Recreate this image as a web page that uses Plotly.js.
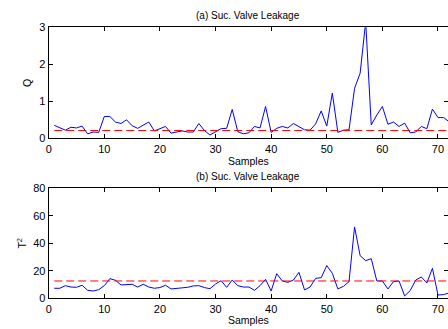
<!DOCTYPE html>
<html>
<head>
<meta charset="utf-8">
<script src="https://cdn.plot.ly/plotly-3.0.1.min.js"></script>
<style>html,body{margin:0;padding:0;background:#fff;}#chart{width:448px;height:329px;}</style>
</head>
<body>
<div id="chart"></div>
<script>
const samples = Array.from({length: 72}, (_, i) => i + 1);
const qValues = [0.35,0.28,0.22,0.30,0.28,0.33,0.12,0.17,0.16,0.59,
  0.59,0.44,0.40,0.50,0.34,0.27,0.36,0.44,0.20,0.25,
  0.32,0.14,0.18,0.20,0.17,0.17,0.40,0.21,0.09,0.18,
  0.26,0.27,0.78,0.18,0.12,0.15,0.32,0.28,0.86,0.16,
  0.27,0.32,0.28,0.40,0.32,0.23,0.22,0.39,0.74,0.33,
  1.22,0.16,0.22,0.23,1.35,1.76,3.15,0.36,0.63,0.86,
  0.38,0.44,0.32,0.41,0.15,0.17,0.32,0.26,0.79,0.56,
  0.56,0.45];
const t2Values = [7.3,7.3,9.2,8.2,8.0,9.5,5.8,5.3,6.3,9.2,
  14.3,13.1,9.7,10.2,10.2,8.2,10.2,8.2,7.3,7.8,
  9.5,6.8,7.3,7.3,8.0,9.0,9.2,7.8,7.0,10.4,
  12.8,8.0,13.3,9.2,8.2,8.2,5.8,9.2,13.8,5.3,
  17.9,12.6,11.6,13.3,18.9,6.1,8.2,14.5,15.0,23.8,
  18.2,6.8,8.7,12.1,51.9,31.0,27.4,28.8,12.6,12.6,
  6.8,12.1,12.6,1.7,5.6,13.3,15.5,11.2,21.8,2.4,
  2.7,3.9];
const qLimit = 0.21;
const t2Limit = 12.6;
const titles = ["(a) Suc. Valve Leakage", "(b) Suc. Valve Leakage"];
const xLabel = "Samples";

const font = {family: "Liberation Sans, Arial, sans-serif", size: 11, color: "#000"};
const blue = "#0000ff", red = "#ff0000";

const traces = [
  {x: samples, y: qValues, type: "scatter", mode: "lines", line: {color: blue, width: 1}, xaxis: "x", yaxis: "y"},
  {x: samples, y: samples.map(() => qLimit), type: "scatter", mode: "lines", line: {color: red, width: 1, dash: "8px,4px"}, xaxis: "x", yaxis: "y"},
  {x: samples, y: t2Values, type: "scatter", mode: "lines", line: {color: blue, width: 1}, xaxis: "x2", yaxis: "y2"},
  {x: samples, y: samples.map(() => t2Limit), type: "scatter", mode: "lines", line: {color: red, width: 1, dash: "8px,4px"}, xaxis: "x2", yaxis: "y2"}
];

const axBase = {
  showgrid: false, zeroline: false, showline: true, linecolor: "#000", linewidth: 1,
  mirror: "allticks", ticks: "inside", ticklen: 4, tickcolor: "#000", tickwidth: 1,
  tickfont: font
};
const xRange = [0, 71.8];
const layout = {
  width: 448, height: 329,
  margin: {l: 0, r: 0, t: 0, b: 0},
  paper_bgcolor: "#fff", plot_bgcolor: "#fff",
  showlegend: false,
  font: font,
  xaxis: Object.assign({}, axBase, {domain: [0.1087, 1.0], range: xRange, tickvals: [0,10,20,30,40,50,60,70], anchor: "y",
    title: {text: xLabel, font: {family: font.family, size: 10.5, color: "#000"}, standoff: 2}}),
  yaxis: Object.assign({}, axBase, {domain: [0.5796, 0.917], range: [0, 3], tickvals: [0,1,2,3], anchor: "x",
    title: {text: "Q", font: {family: font.family, size: 10.5, color: "#000"}, standoff: 5}}),
  xaxis2: Object.assign({}, axBase, {domain: [0.1087, 1.0], range: xRange, tickvals: [0,10,20,30,40,50,60,70], anchor: "y2",
    title: {text: xLabel, font: {family: font.family, size: 10.5, color: "#000"}, standoff: 2}}),
  yaxis2: Object.assign({}, axBase, {domain: [0.0933, 0.4277], range: [0, 80], tickvals: [0,20,40,60,80], anchor: "x2",
    title: {text: "T<sup>2</sup>", font: {family: font.family, size: 10.5, color: "#000"}, standoff: 4}}),
  annotations: [
    {text: titles[0], xref: "paper", yref: "paper", x: 0.554, y: 0.917, yshift: 4, xanchor: "center", yanchor: "bottom", showarrow: false, font: {family: font.family, size: 10, color: "#000"}},
    {text: titles[1], xref: "paper", yref: "paper", x: 0.554, y: 0.4277, yshift: 4, xanchor: "center", yanchor: "bottom", showarrow: false, font: {family: font.family, size: 10, color: "#000"}}
  ]
};
Plotly.newPlot("chart", traces, layout, {staticPlot: true, displayModeBar: false});
</script>
</body>
</html>
